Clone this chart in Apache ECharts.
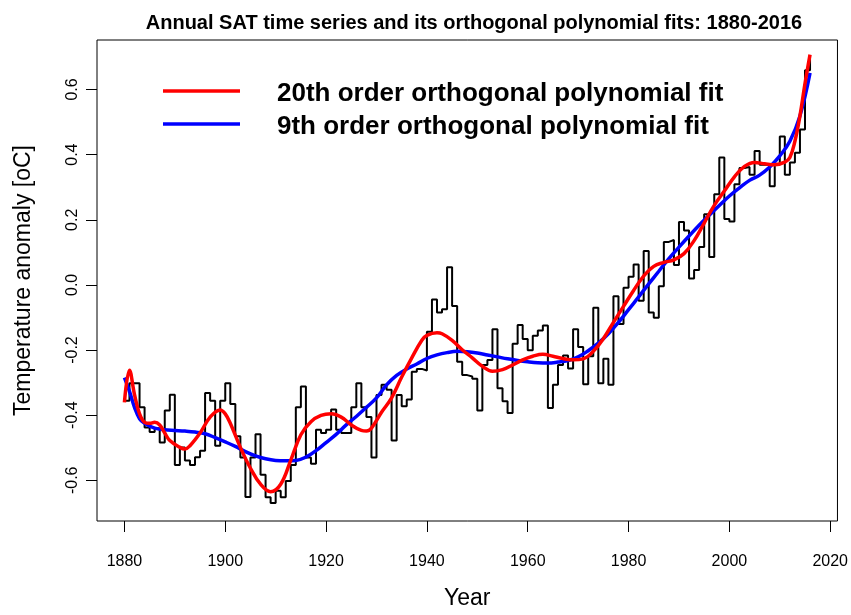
<!DOCTYPE html>
<html>
<head>
<meta charset="utf-8">
<script src="https://cdn.jsdelivr.net/npm/echarts@6/dist/echarts.min.js"></script>
<style>
  html, body { margin: 0; padding: 0; background: #ffffff; }
  #chart { width: 851px; height: 615px; }
</style>
</head>
<body>
<div id="chart"></div>
<script>
// Annual global mean surface air temperature anomalies [oC], one value per year from 1880
const firstYear = 1880;
const satAnomaly = [
  -0.356, -0.302, -0.302, -0.376, -0.438, -0.452, -0.440, -0.484, -0.386, -0.337, // 1880s
  -0.553, -0.499, -0.539, -0.553, -0.529, -0.509, -0.332, -0.356, -0.494, -0.356, // 1890s
  -0.302, -0.366, -0.465, -0.530, -0.651, -0.530, -0.459, -0.583, -0.652, -0.670, // 1900s
  -0.632, -0.652, -0.602, -0.553, -0.376, -0.312, -0.530, -0.549, -0.445, -0.455, // 1910s
  -0.445, -0.383, -0.445, -0.455, -0.455, -0.376, -0.302, -0.376, -0.406, -0.530, // 1920s
  -0.338, -0.307, -0.322, -0.478, -0.338, -0.373, -0.352, -0.267, -0.258, -0.263, // 1930s
  -0.144, -0.045, -0.085, -0.075,  0.054, -0.065, -0.236, -0.277, -0.281, -0.288, // 1940s
  -0.386, -0.246, -0.231, -0.136, -0.317, -0.357, -0.393, -0.181, -0.123, -0.166, // 1950s
  -0.201, -0.156, -0.140, -0.125, -0.378, -0.307, -0.246, -0.217, -0.257, -0.136, // 1960s
  -0.191, -0.305, -0.219, -0.070, -0.302, -0.227, -0.307, -0.035, -0.120, -0.009, // 1970s
   0.025,  0.063, -0.049,  0.104, -0.085, -0.101, -0.004,  0.132,  0.138,  0.061, // 1980s
   0.193,  0.167,  0.020,  0.046,  0.116,  0.217,  0.086,  0.278,  0.391,  0.202, // 1990s
   0.195,  0.309,  0.359,  0.362,  0.338,  0.411,  0.369,  0.369,  0.303,  0.369, // 2000s
   0.456,  0.338,  0.376,  0.406,  0.477,  0.659,  0.696                          // 2010-2016
];

// 20th order orthogonal polynomial fit, sampled along the curve
const fit20Years = [
  1880, 1881, 1882, 1883, 1884, 1885, 1886, 1887, 1888, 1889, 1891, 1892, 1893, 1895,
  1897, 1899, 1900, 1901, 1903, 1905, 1907, 1909, 1911, 1913, 1915, 1917, 1919, 1921,
  1923, 1925, 1927, 1928, 1929, 1931, 1933, 1935, 1937, 1939, 1940, 1942, 1943, 1945,
  1947, 1949, 1951, 1953, 1955, 1957, 1959, 1961, 1963, 1965, 1967, 1969, 1971, 1973,
  1975, 1977, 1979, 1981, 1983, 1985, 1987, 1989, 1991, 1993, 1995, 1997, 1999, 2001,
  2003, 2005, 2007, 2009, 2011, 2012, 2013, 2014, 2015, 2016
];
const fit20Values = [
  -0.361, -0.262, -0.337, -0.396, -0.422, -0.425, -0.422, -0.430, -0.455, -0.478, -0.499, -0.504, -0.494, -0.455,
  -0.406, -0.384, -0.396, -0.425, -0.499, -0.563, -0.612, -0.635, -0.612, -0.538, -0.460, -0.420, -0.401, -0.396,
  -0.406, -0.430, -0.447, -0.449, -0.440, -0.391, -0.347, -0.283, -0.224, -0.170, -0.155, -0.147, -0.150, -0.170,
  -0.199, -0.224, -0.250, -0.265, -0.260, -0.246, -0.230, -0.219, -0.213, -0.219, -0.226, -0.230, -0.227, -0.204,
  -0.165, -0.115, -0.066, -0.017,  0.027,  0.057,  0.069,  0.077,  0.096,  0.136,  0.190,  0.244,  0.288,  0.332,
   0.364,  0.376,  0.372,  0.369,  0.377,  0.391,  0.441,  0.519,  0.618,  0.707
];

// 9th order orthogonal polynomial fit, sampled along the curve
const fit9Years = [
  1880, 1881, 1882, 1883, 1884, 1886, 1888, 1890, 1892, 1894, 1896, 1898, 1900, 1902,
  1904, 1906, 1908, 1910, 1912, 1914, 1916, 1918, 1920, 1922, 1924, 1926, 1928, 1930,
  1932, 1934, 1936, 1938, 1940, 1942, 1944, 1946, 1948, 1950, 1952, 1954, 1956, 1958,
  1960, 1962, 1964, 1966, 1968, 1970, 1972, 1974, 1976, 1978, 1980, 1982, 1984, 1986,
  1988, 1990, 1992, 1994, 1996, 1998, 2000, 2002, 2004, 2006, 2008, 2010, 2012, 2014, 2016
];
const fit9Values = [
  -0.285, -0.327, -0.376, -0.411, -0.425, -0.440, -0.445, -0.447, -0.449, -0.452, -0.457, -0.469, -0.482, -0.496,
  -0.512, -0.525, -0.534, -0.539, -0.540, -0.539, -0.529, -0.509, -0.484, -0.459, -0.430, -0.404, -0.376, -0.347,
  -0.307, -0.278, -0.258, -0.243, -0.226, -0.215, -0.208, -0.204, -0.205, -0.209, -0.215, -0.221, -0.227, -0.232,
  -0.236, -0.239, -0.240, -0.237, -0.232, -0.221, -0.202, -0.179, -0.150, -0.115, -0.076, -0.037,  0.003,  0.042,
   0.081,  0.116,  0.150,  0.183,  0.214,  0.244,  0.273,  0.298,  0.321,  0.337,  0.362,  0.396,  0.441,  0.519,  0.651
];

const xTickValues = [1880, 1900, 1920, 1940, 1960, 1980, 2000, 2020];
const yTickValues = [-0.6, -0.4, -0.2, 0.0, 0.2, 0.4, 0.6];

const chartTitle = 'Annual SAT time series and its orthogonal polynomial fits: 1880-2016';
const xTitle = 'Year';
const yTitle = 'Temperature anomaly [oC]';
const fitNames = ['20th order orthogonal polynomial fit', '9th order orthogonal polynomial fit'];
const fitColors = ['#ff0000', '#0000ff'];

const FONT = '"Liberation Sans", Arial, Helvetica, sans-serif';

const satPoints = satAnomaly.map((v, i) => [firstYear + i, v]);
const fit20Points = fit20Years.map((y, i) => [y, fit20Values[i]]);
const fit9Points = fit9Years.map((y, i) => [y, fit9Values[i]]);

const chart = echarts.init(document.getElementById('chart'), null, { renderer: 'canvas' });

// legend drawn as line swatches with bold labels at the upper left of the plot
const legendGraphics = [];
fitNames.forEach((name, i) => {
  const cy = 91 + i * 33;
  legendGraphics.push({
    type: 'line', z: 100,
    shape: { x1: 163, y1: cy, x2: 240, y2: cy },
    style: { stroke: fitColors[i], lineWidth: 3.5 }
  });
  legendGraphics.push({
    type: 'text', z: 100, x: 277, y: cy + 3,
    style: {
      text: name, fill: '#000', font: 'bold 26px ' + FONT,
      textAlign: 'left', textVerticalAlign: 'middle'
    }
  });
});

chart.setOption({
  animation: false,
  backgroundColor: '#ffffff',
  title: {
    text: chartTitle,
    left: 469, top: 8, textAlign: 'center',
    textStyle: { fontFamily: FONT, fontWeight: 'bold', fontSize: 20, color: '#000' }
  },
  grid: {
    left: 97, top: 40, width: 742, height: 488,
    show: true, borderColor: '#000', borderWidth: 1, backgroundColor: 'transparent',
    containLabel: false
  },
  xAxis: {
    type: 'value', min: 1874.56, max: 2021.44,
    name: xTitle, nameLocation: 'middle', nameGap: 66,
    nameTextStyle: { fontFamily: FONT, fontSize: 23, color: '#000' },
    axisLine: { show: false, onZero: false },
    axisTick: { show: true, inside: false, length: 11, customValues: xTickValues,
                lineStyle: { color: '#000', width: 1 } },
    axisLabel: { show: true, customValues: xTickValues, margin: 33,
                 fontFamily: FONT, fontSize: 16, color: '#000',
                 formatter: v => String(Math.round(v)) },
    splitLine: { show: false }
  },
  yAxis: {
    type: 'value', min: -0.725, max: 0.752,
    name: yTitle, nameLocation: 'middle', nameGap: 62,
    nameTextStyle: { fontFamily: FONT, fontSize: 23, color: '#000' },
    axisLine: { show: false, onZero: false },
    axisTick: { show: true, inside: false, length: 11, customValues: yTickValues,
                lineStyle: { color: '#000', width: 1 } },
    axisLabel: { show: true, customValues: yTickValues, rotate: 90, margin: 16,
                 fontFamily: FONT, fontSize: 16, color: '#000',
                 formatter: v => (Math.abs(v) < 1e-9 ? 0 : v).toFixed(1) },
    splitLine: { show: false }
  },
  graphic: legendGraphics,
  series: [
    {
      name: 'SAT', type: 'line', step: 'end', data: satPoints,
      showSymbol: false, z: 2,
      lineStyle: { color: '#000', width: 2 }
    },
    {
      name: fitNames[1], type: 'line', smooth: 0.4, data: fit9Points,
      showSymbol: false, z: 3,
      lineStyle: { color: fitColors[1], width: 3.5 }
    },
    {
      name: fitNames[0], type: 'line', smooth: 0.4, data: fit20Points,
      showSymbol: false, z: 4,
      lineStyle: { color: fitColors[0], width: 3.5 }
    }
  ]
});
</script>
</body>
</html>
